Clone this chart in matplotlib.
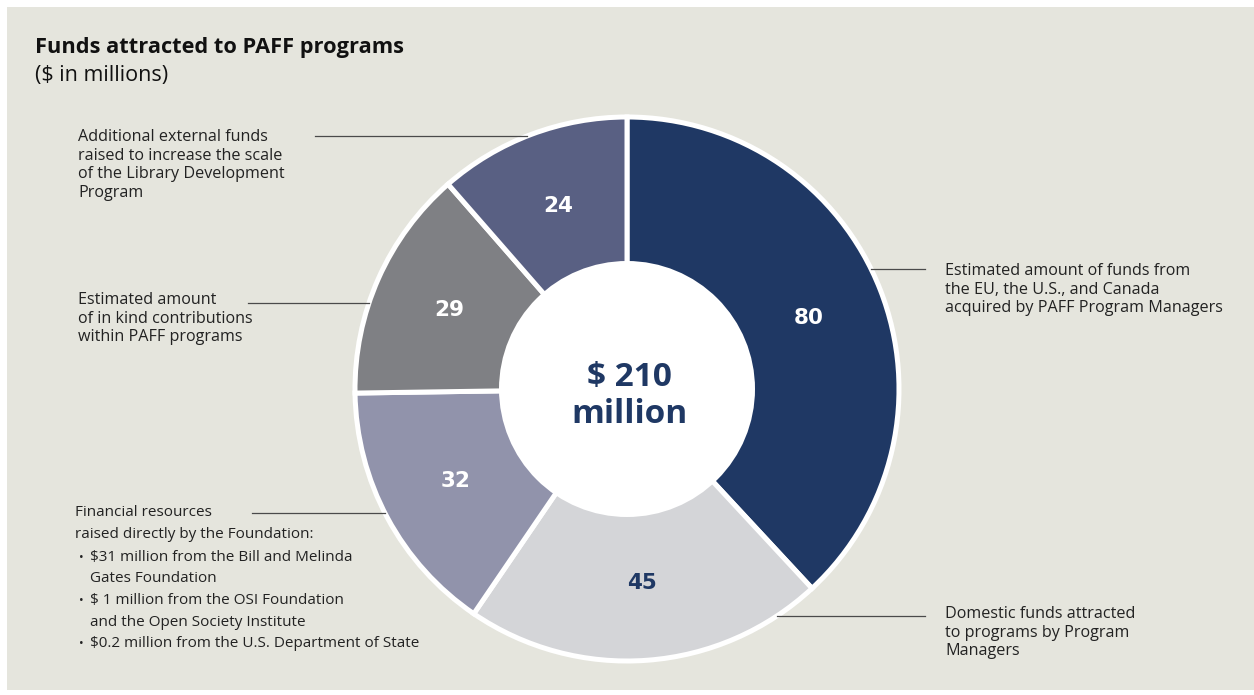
import matplotlib.pyplot as plt
import matplotlib.patches as mpatches
import numpy as np

# dados do gráfico
valores = [80, 45, 32, 29, 24]
cores = ["#1f3864", "#d4d5d8", "#9193ab", "#7f8084", "#596083"]
cores_numero = ["white", "#1f3864", "white", "white", "white"]
total_txt = "$ 210\nmillion"
titulo = "Funds attracted to PAFF programs"
subtitulo = "($ in millions)"

rotulos = [
    "Estimated amount of funds from\nthe EU, the U.S., and Canada\nacquired by PAFF Program Managers",
    "Domestic funds attracted\nto programs by Program\nManagers",
    None,  # tratado abaixo (lista com marcadores)
    "Estimated amount\nof in kind contributions\nwithin PAFF programs",
    "Additional external funds\nraised to increase the scale\nof the Library Development\nProgram",
]
fin_cabecalho = ["Financial resources", "raised directly by the Foundation:"]
fin_itens = [
    ["$31 million from the Bill and Melinda", "Gates Foundation"],
    ["$ 1 million from the OSI Foundation", "and the Open Society Institute"],
    ["$0.2 million from the U.S. Department of State"],
]

# layout (em pixels)
W, H = 1254, 695
cx, cy, R, r_in = 627, 389, 272, 128
linha_y = [269, 616, 513, 303, 136]
texto_xy = [(945, 263), (945, 606), None, (78, 292), (78, 129)]
linha_fim = [925, 925, 252, 248, 315]

fig = plt.figure(figsize=(W / 100, H / 100), dpi=100)
fig.patch.set_facecolor("white")
ax = fig.add_axes([0, 0, 1, 1])

wedges, _ = ax.pie(valores, colors=cores, startangle=-90, counterclock=True,
                   center=(cx, cy), radius=R,
                   wedgeprops=dict(edgecolor="white", linewidth=3.6))
ax.set_xlim(0, W)
ax.set_ylim(H, 0)
ax.set_aspect("equal")
ax.axis("off")

ax.add_patch(mpatches.Rectangle((7, 7), W, 683, facecolor="#e5e5dd", edgecolor="none", zorder=-10))
ax.add_patch(mpatches.Circle((cx, cy), r_in, facecolor="white", edgecolor="none", zorder=5))

fonte = "Open Sans"
cor_txt = "#222222"

# números dentro das fatias
for w, v, c in zip(wedges, valores, cores_numero):
    ang = np.deg2rad((w.theta1 + w.theta2) / 2)
    x = cx + 195 * np.cos(ang)
    y = cy + 195 * np.sin(ang)
    ax.text(x, y, str(v), ha="center", va="center", color=c,
            fontsize=15.5, fontweight="bold", family="DejaVu Sans", zorder=6)

ax.text(629, 396, total_txt, ha="center", va="center", color="#1f3864",
        fontsize=24, fontweight="bold", family=fonte, linespacing=1.18, zorder=6)

# linhas de chamada
for i, yl in enumerate(linha_y):
    dx = np.sqrt(R ** 2 - (yl - cy) ** 2)
    x_borda = cx + dx if linha_fim[i] > cx else cx - dx
    ax.plot([x_borda, linha_fim[i]], [yl, yl], color="#4a4a4a", lw=0.9, zorder=1)

for i, txt in enumerate(rotulos):
    if txt is None:
        continue
    x, y = texto_xy[i]
    ax.text(x, y, txt, ha="left", va="top", color=cor_txt, fontsize=11.6,
            family=fonte, linespacing=1.22)

# rótulo com marcadores
ys = [512, 535]
for t, y in zip(fin_cabecalho, ys):
    ax.text(75, y, t, ha="left", va="center", color=cor_txt, fontsize=11, family=fonte)
y = 557
for item in fin_itens:
    ax.text(79, y, "•", ha="left", va="center", color=cor_txt, fontsize=9, family=fonte)
    for parte in item:
        ax.text(90, y, parte, ha="left", va="center", color=cor_txt, fontsize=11, family=fonte)
        y += 21.7

ax.text(35, 47, titulo, ha="left", va="center", color="#111111", fontsize=15.7,
        fontweight="bold", family=fonte)
ax.text(35, 76, subtitulo, ha="left", va="center", color="#111111", fontsize=15.5,
        family=fonte)

plt.savefig("out.png", dpi=100, facecolor=fig.get_facecolor())
